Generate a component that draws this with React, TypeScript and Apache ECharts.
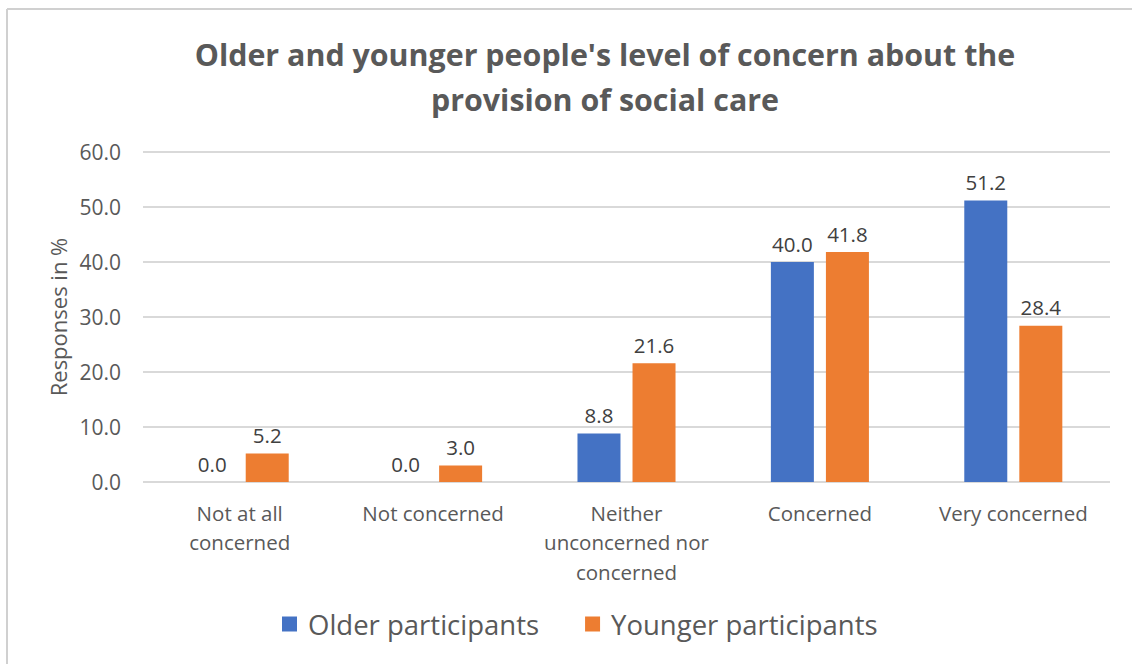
import React, { useEffect, useRef } from "react";
import * as echarts from "echarts";

const categories = [
  "Not at all\nconcerned",
  "Not concerned",
  "Neither\nunconcerned nor\nconcerned",
  "Concerned",
  "Very concerned",
];
const olderValues = [0.0, 0.0, 8.8, 40.0, 51.2];
const youngerValues = [5.2, 3.0, 21.6, 41.8, 28.4];
const seriesNames = ["Older participants", "Younger participants"];
const titleText =
  "Older and younger people's level of concern about the\nprovision of social care";
const yAxisName = "Responses in %";

const FONT = "'Open Sans', Lato, sans-serif";

export default function App() {
  const ref = useRef<HTMLDivElement>(null);
  useEffect(() => {
    if (!ref.current) return;
    const chart = echarts.init(ref.current, undefined, { renderer: "svg" });
    const labelStyle = {
      show: true,
      position: "top" as const,
      distance: 8,
      color: "#404040",
      fontSize: 20.5,
      fontFamily: FONT,
      formatter: (p: any) => Number(p.value).toFixed(1),
    };
    chart.setOption({
      animation: false,
      backgroundColor: "#ffffff",
      textStyle: { fontFamily: FONT },
      title: {
        text: titleText,
        left: 600,
        textAlign: "center",
        top: 27,
        textStyle: {
          fontSize: 30.4,
          fontWeight: "bold",
          color: "#595959",
          fontFamily: FONT,
          lineHeight: 45,
        },
      },
      legend: {
        bottom: 21,
        left: 277,
        itemWidth: 15,
        itemHeight: 15,
        itemGap: 46,
        icon: "rect",
        textStyle: { fontSize: 27.5, color: "#595959", fontFamily: FONT, padding: [0, 0, 0, 6] },
        data: seriesNames,
      },
      grid: { left: 143, right: 22, top: 152, bottom: 182, containLabel: false },
      xAxis: {
        type: "category",
        data: categories,
        axisLine: { show: false },
        axisTick: { show: false },
        axisLabel: {
          color: "#595959",
          fontSize: 20.5,
          lineHeight: 29.5,
          margin: 16,
          fontFamily: FONT,
          interval: 0,
        },
      },
      yAxis: {
        type: "value",
        min: 0,
        max: 60,
        interval: 10,
        name: yAxisName,
        nameLocation: "middle",
        nameGap: 73,
        nameRotate: 90,
        nameTextStyle: { color: "#595959", fontSize: 22, fontFamily: FONT },
        axisLine: { show: false },
        axisTick: { show: false },
        splitLine: { lineStyle: { color: "#d9d9d9", width: 2 } },
        axisLabel: {
          color: "#595959",
          fontSize: 21,
          margin: 22,
          fontFamily: FONT,
          formatter: (v: number) => v.toFixed(1),
        },
      },
      series: [
        {
          name: seriesNames[0],
          type: "bar",
          data: olderValues,
          barWidth: 43,
          barGap: "28%",
          itemStyle: { color: "#4472c4" },
          label: labelStyle,
        },
        {
          name: seriesNames[1],
          type: "bar",
          data: youngerValues,
          barWidth: 43,
          barGap: "28%",
          itemStyle: { color: "#ed7d31" },
          label: labelStyle,
        },
      ],
      graphic: [
        {
          type: "line",
          shape: { x1: 7, y1: 9, x2: 1132, y2: 9 },
          style: { stroke: "#d0d0d0", lineWidth: 2 },
        },
        {
          type: "line",
          shape: { x1: 7, y1: 9, x2: 7, y2: 664 },
          style: { stroke: "#d0d0d0", lineWidth: 2 },
        },
      ],
    });
    return () => chart.dispose();
  }, []);
  return (
    <div
      ref={ref}
      style={{ position: "absolute", left: 0, top: 0, width: 1132, height: 664 }}
    />
  );
}
